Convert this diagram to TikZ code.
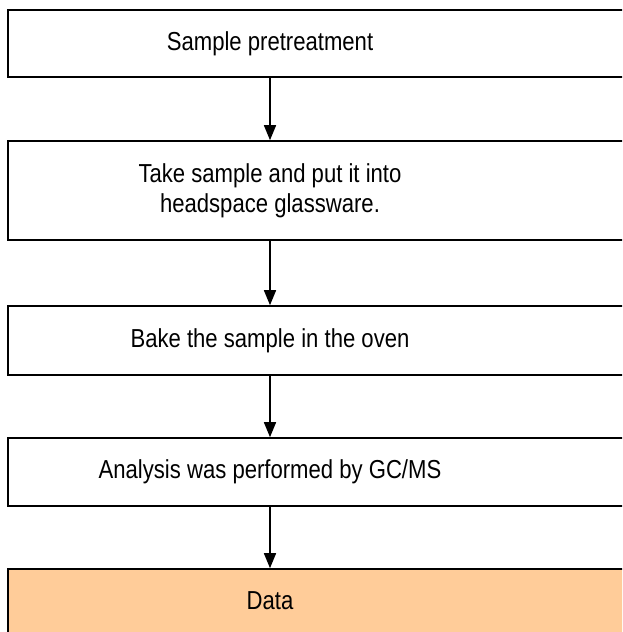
\documentclass[tikz,border=0pt]{standalone}
\usepackage{fontspec}
\setmainfont{Liberation Sans}[FakeStretch=0.85]
\usepackage{tikz}
\usetikzlibrary{positioning}
\usetikzlibrary{arrows.meta}
\usepackage{xcolor}
\definecolor{dataorange}{HTML}{FFCC99}

\begin{document}
\begin{tikzpicture}[x=1pt, y=1pt,
  stepbox/.style={draw, rectangle, line width=1.6pt, minimum width=640pt, inner sep=0pt},
  steptext/.style={align=center, font=\fontsize{26}{30}\selectfont, inner sep=0pt},
  flowarrow/.style={line width=1.6pt, -{Triangle[length=15pt, width=12pt]}}]
  \useasboundingbox (0,0) rectangle (622,632);
  \clip (0,0) rectangle (622,632);
  \node[stepbox, minimum height=67pt] (pre) at (328,588.5) {};
  \node[steptext] (pretext) at (270,588.5) {Sample pretreatment};
  \node[stepbox, minimum height=99pt] (take) at (328,441.5) {};
  \node[steptext] (taketext) at (270,441.5) {Take sample and put it into\\headspace glassware.};
  \node[stepbox, minimum height=69pt] (bake) at (328,291.5) {};
  \node[steptext] (baketext) at (270,291.5) {Bake the sample in the oven};
  \node[stepbox, minimum height=68pt] (gcms) at (328,160) {};
  \node[steptext] (gcmstext) at (270,160) {Analysis was performed by GC/MS};
  \node[stepbox, fill=dataorange, minimum height=68pt] (data) at (328,29) {};
  \node[steptext] (datatext) at (270,31) {Data};
  \draw[flowarrow] (pretext |- pre.south) -- (taketext |- take.north);
  \draw[flowarrow] (taketext |- take.south) -- (baketext |- bake.north);
  \draw[flowarrow] (baketext |- bake.south) -- (gcmstext |- gcms.north);
  \draw[flowarrow] (gcmstext |- gcms.south) -- (datatext |- data.north);
\end{tikzpicture}
\end{document}
